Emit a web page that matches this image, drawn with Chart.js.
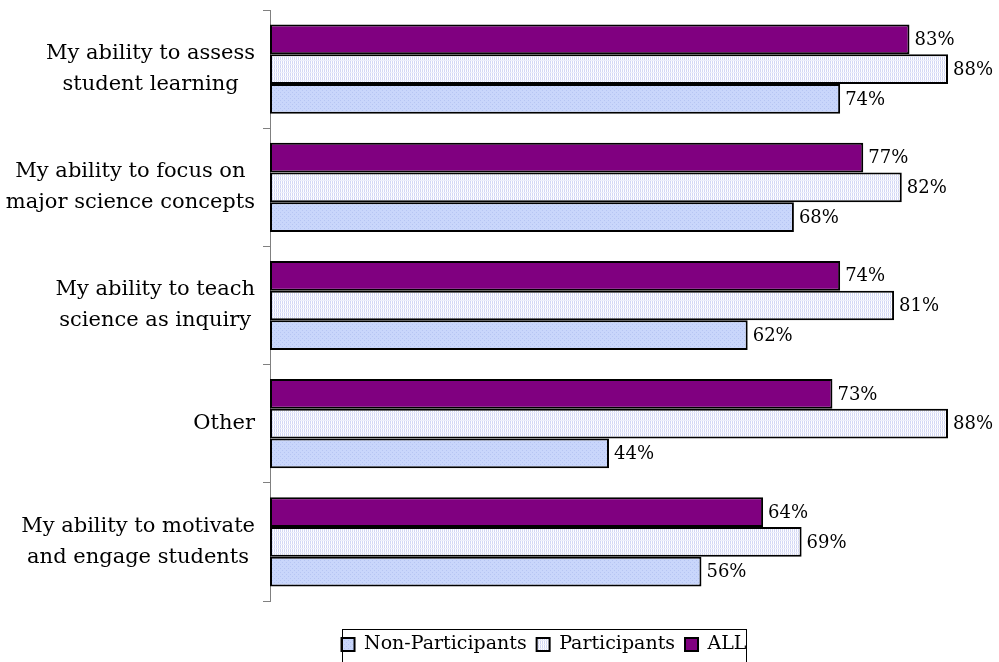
<!DOCTYPE html>
<html>
<head>
<meta charset="utf-8">
<script src="https://cdn.jsdelivr.net/npm/chart.js@4.4.1/dist/chart.umd.min.js"></script>
<style>
  html, body { margin: 0; padding: 0; background: #fff; }
  #wrap { width: 999px; height: 662px; position: relative; overflow: hidden; }
</style>
</head>
<body>
<div id="wrap"><canvas id="c" width="999" height="662"></canvas></div>
<script>
// Survey items (each label split into display lines)
const categories = [
  ["My ability to assess", "student learning"],
  ["My ability to focus on", "major science concepts"],
  ["My ability to teach", "science as inquiry"],
  ["Other"],
  ["My ability to motivate", "and engage students"]
];
// Percent reporting improvement, per group
const allValues = [83, 77, 74, 73, 64];
const participantValues = [88, 82, 81, 88, 69];
const nonParticipantValues = [74, 68, 62, 44, 56];
const seriesNames = ["ALL", "Participants", "Non-Participants"];

const FONT = "'DejaVu Serif', 'Liberation Serif', serif";

// Fill patterns for the hatched bars
function makePattern(bg, draw) {
  const p = document.createElement('canvas');
  p.width = 4; p.height = 4;
  const g = p.getContext('2d');
  g.fillStyle = bg; g.fillRect(0, 0, 4, 4);
  draw(g);
  return g.createPattern(p, 'repeat');
}
const ctx = document.getElementById('c').getContext('2d');
const participantFill = makePattern('#ffffff', g => {
  g.fillStyle = '#d3d7f5';
  g.fillRect(0, 0, 1, 4);
  g.fillRect(2, 0, 1, 4);
  g.fillStyle = '#eceefb';
  g.fillRect(0, 0, 4, 1);
});
const nonParticipantFill = makePattern('#c9d6fb', g => {
  g.fillStyle = '#b6c5f3';
  g.fillRect(0, 0, 1, 1);
  g.fillRect(2, 2, 1, 1);
});

// Value labels at the end of each bar
const valueLabels = {
  id: 'valueLabels',
  afterDatasetsDraw(chart) {
    const c = chart.ctx;
    c.save();
    c.font = "18px " + FONT;
    c.fillStyle = '#000';
    c.textBaseline = 'middle';
    c.textAlign = 'left';
    chart.data.datasets.forEach((ds, i) => {
      chart.getDatasetMeta(i).data.forEach((bar, j) => {
        c.fillText(ds.data[j] + '%', bar.x + 5, bar.y + 1);
      });
    });
    c.restore();
  }
};

// Category labels: each block right-aligned to the axis, lines centred within the block
const categoryLabels = {
  id: 'categoryLabels',
  afterDraw(chart) {
    const c = chart.ctx;
    const y = chart.scales.y;
    c.save();
    c.font = "21px " + FONT;
    c.fillStyle = '#000';
    c.textAlign = 'center';
    c.textBaseline = 'middle';
    const lh = 31;
    categories.forEach((lines, i) => {
      const w = Math.max(...lines.map(l => c.measureText(l).width));
      const cx = y.right - 15 - w / 2;
      const cy = y.getPixelForValue(i);
      const top = cy - (lines.length - 1) * lh / 2;
      lines.forEach((l, k) => c.fillText(l, cx, top + k * lh));
    });
    c.restore();
  }
};

// Move the legend below the plot and towards the middle of the bars
const legendShift = {
  id: 'legendShift',
  afterLayout(chart) {
    const lg = chart.legend;
    lg.top += 24; lg.bottom += 24;
    lg.left += 70; lg.right += 70;
  }
};

// Frame round the legend
const legendFrame = {
  id: 'legendFrame',
  afterDraw(chart) {
    const lg = chart.legend;
    const c = chart.ctx;
    c.save();
    c.strokeStyle = '#000';
    c.lineWidth = 1;
    const w = 404, h = 40;
    const x = Math.round(lg.left + lg.width / 2 - w / 2) + 0.5;
    c.strokeRect(x, Math.round(lg.top) + 4.5, w, h);
    c.restore();
  }
};

new Chart(ctx, {
  type: 'bar',
  data: {
    labels: categories,
    datasets: [
      { label: seriesNames[0], data: allValues, backgroundColor: '#800080' },
      { label: seriesNames[1], data: participantValues, backgroundColor: participantFill },
      { label: seriesNames[2], data: nonParticipantValues, backgroundColor: nonParticipantFill }
    ]
  },
  options: {
    indexAxis: 'y',
    responsive: false,
    animation: false,
    events: [],
    datasets: {
      bar: {
        borderColor: '#000',
        borderWidth: 2,
        borderSkipped: false,
        categoryPercentage: 0.755,
        barPercentage: 1.0
      }
    },
    layout: { padding: { left: 0, right: 51, top: 10, bottom: 22 } },
    scales: {
      x: {
        min: 0, max: 88,
        display: false
      },
      y: {
        afterFit(scale) { scale.width = 270; },
        border: { display: true, color: '#808080', width: 1 },
        grid: { drawOnChartArea: false, drawTicks: true, tickLength: 7, color: '#808080', offset: true },
        ticks: { display: false }
      }
    },
    plugins: {
      legend: {
        position: 'bottom',
        reverse: true,
        labels: {
          font: { family: FONT, size: 19 },
          color: '#000',
          boxWidth: 13,
          boxHeight: 13,
          padding: 10,
          useBorderRadius: false
        }
      },
      tooltip: { enabled: false }
    }
  },
  plugins: [legendShift, valueLabels, categoryLabels, legendFrame]
});
</script>
</body>
</html>
